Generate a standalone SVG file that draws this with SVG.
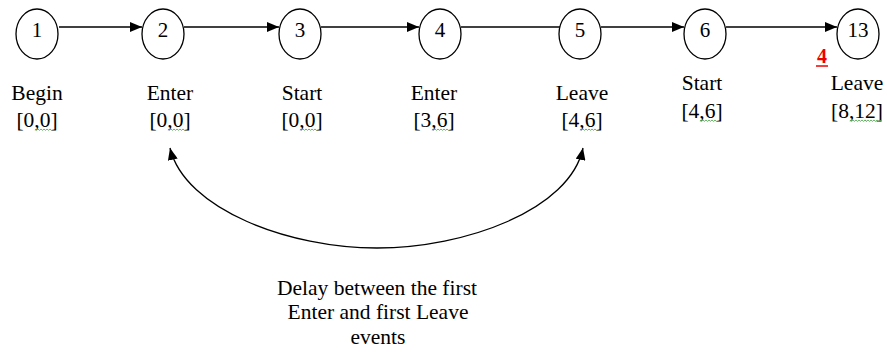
<svg xmlns="http://www.w3.org/2000/svg" width="887" height="352" viewBox="0 0 887 352">
  <style>
    .node { fill: #fff; stroke: #000; stroke-width: 1.3; }
    .num { font-family: "Liberation Serif", "Times New Roman", serif; font-size: 21px; fill: #000; text-anchor: middle; }
    .lbl { font-family: "Liberation Serif", "Times New Roman", serif; font-size: 21.5px; fill: #000; text-anchor: middle; }
    .edge { fill: none; stroke: #000; stroke-width: 1.3; }
    .squig { fill: none; stroke: #5a5; stroke-width: 0.9; }
  </style>
  <defs>
    <marker id="arrow" markerUnits="userSpaceOnUse" viewBox="0 0 12 10" markerWidth="12" markerHeight="10" refX="12" refY="5" orient="auto-start-reverse">
      <path d="M0,0 L12,5 L0,10 z" fill="#000"/>
    </marker>
    <!-- wavy spell-check underline, 16px long -->
    <path id="wave" d="M0,0 l1.5,1.3 l1.5,-1.3 l1.5,1.3 l1.5,-1.3 l1.5,1.3 l1.5,-1.3 l1.5,1.3 l1.5,-1.3 l1.5,1.3 l1.5,-1.3 l1.5,1.3"/>
  </defs>

  <rect width="887" height="352" fill="#fff"/>

  <!-- connectors -->
  <g id="connectors">
    <line class="edge" x1="59" y1="27" x2="142" y2="27" marker-end="url(#arrow)"/>
    <line class="edge" x1="184" y1="27" x2="279" y2="27" marker-end="url(#arrow)"/>
    <line class="edge" x1="321" y1="27" x2="419" y2="27" marker-end="url(#arrow)"/>
    <line class="edge" x1="461" y1="27" x2="560" y2="27"/>
    <line class="edge" x1="601" y1="27" x2="684" y2="27" marker-end="url(#arrow)"/>
    <line class="edge" x1="726" y1="27" x2="837" y2="27" marker-end="url(#arrow)"/>
    <path id="delay-arc" class="edge" d="M170,148 C185,210 290,248 377,248 C465,248 570,210 583,148" marker-start="url(#arrow)" marker-end="url(#arrow)"/>
  </g>

  <g id="n1">
    <ellipse class="node" cx="37" cy="34" rx="21" ry="25"/>
    <text class="num" x="37" y="37">1</text>
    <text class="lbl" x="37" y="100">Begin</text>
    <text class="lbl" x="37" y="127">[0,0]</text>
    <use href="#wave" class="squig" x="35" y="129"/>
  </g>

  <g id="n2">
    <ellipse class="node" cx="163" cy="34" rx="21" ry="25"/>
    <text class="num" x="163" y="37">2</text>
    <text class="lbl" x="170" y="100">Enter</text>
    <text class="lbl" x="170" y="127">[0,0]</text>
    <use href="#wave" class="squig" x="168" y="129"/>
  </g>

  <g id="n3">
    <ellipse class="node" cx="300" cy="34" rx="21" ry="25"/>
    <text class="num" x="300" y="37">3</text>
    <text class="lbl" x="302" y="100">Start</text>
    <text class="lbl" x="302" y="127">[0,0]</text>
    <use href="#wave" class="squig" x="300" y="129"/>
  </g>

  <g id="n4">
    <ellipse class="node" cx="440" cy="34" rx="21" ry="25"/>
    <text class="num" x="440" y="37">4</text>
    <text class="lbl" x="434" y="100">Enter</text>
    <text class="lbl" x="434" y="127">[3,6]</text>
    <use href="#wave" class="squig" x="432" y="129"/>
  </g>

  <g id="n5">
    <ellipse class="node" cx="580" cy="34" rx="21" ry="25"/>
    <text class="num" x="580" y="37">5</text>
    <text class="lbl" x="582" y="100">Leave</text>
    <text class="lbl" x="582" y="127">[4,6]</text>
    <use href="#wave" class="squig" x="580" y="129"/>
  </g>

  <g id="n6">
    <ellipse class="node" cx="705" cy="34" rx="21" ry="25"/>
    <text class="num" x="705" y="37">6</text>
    <text class="lbl" x="702" y="90">Start</text>
    <text class="lbl" x="702" y="118">[4,6]</text>
    <use href="#wave" class="squig" x="700" y="120"/>
  </g>

  <g id="n13">
    <ellipse class="node" cx="858" cy="34" rx="21" ry="25"/>
    <text class="num" x="858" y="37">13</text>
    <text class="lbl" x="857" y="90">Leave</text>
    <text class="lbl" x="857" y="118">[8,12]</text>
    <use href="#wave" class="squig" x="850" y="120" transform="translate(0,0)"/>
    <use href="#wave" class="squig" x="865" y="120" transform="translate(0,0)"/>
  </g>

  <!-- red marker figure -->
  <g id="mark">
    <text x="822" y="63" font-family="Liberation Serif, Times New Roman, serif" font-size="20" font-weight="bold" fill="#e00" text-anchor="middle">4</text>
    <line x1="816" y1="66" x2="828" y2="66" stroke="#e00" stroke-width="1.5"/>
  </g>

  <g id="caption">
    <text class="lbl" x="377" y="295">Delay between the first</text>
    <text class="lbl" x="378" y="319">Enter and first Leave</text>
    <text class="lbl" x="378" y="344">events</text>
  </g>
</svg>
